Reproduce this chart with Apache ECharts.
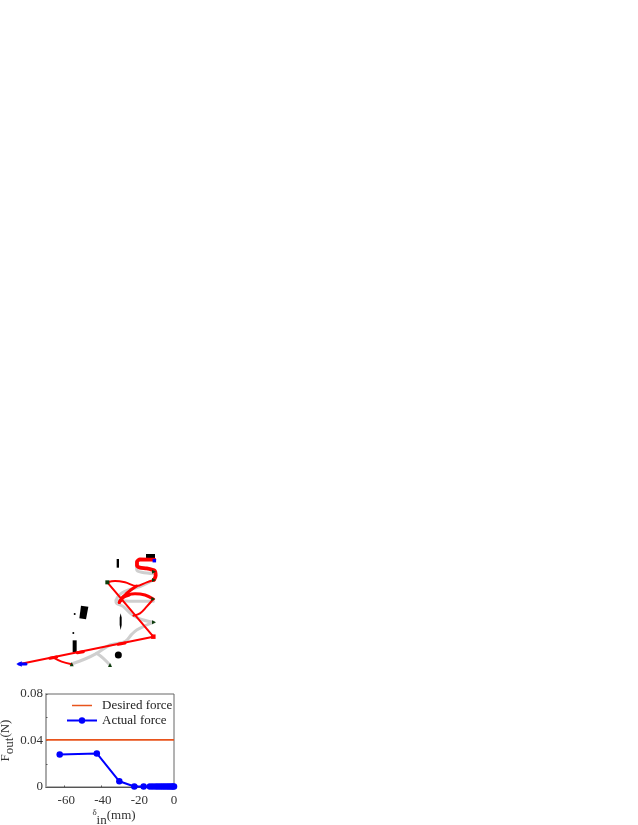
<!DOCTYPE html>
<html>
<head>
<meta charset="utf-8">
<style>html,body{margin:0;padding:0;background:#fff}#c{width:638px;height:825px}</style>
<script src="https://cdn.jsdelivr.net/npm/echarts@6/dist/echarts.min.js"></script>
</head>
<body>
<div id="c"></div>
<script>
// Force plot data
const desiredForceX = [-70, 0];
const desiredForceY = [0.0405, 0.0405];
const actualForceX = [-62.5, -42.2, -29.9, -21.7, -16.6, -13.2, -11.6, -10, -8.7, -7.4, -6.2, -5, -3.8, -2.7, -1.6, -0.7, 0];
const actualForceY = [0.028, 0.0289, 0.0049, 0.0004, 0.0004, 0.0004, 0.0004, 0.0004, 0.0004, 0.0004, 0.0004, 0.0004, 0.0004, 0.0004, 0.0004, 0.0004, 0.0004];
const xTickLabels = [-60, -40, -20, 0];
const yTickLabels = [0, 0.04, 0.08];
const yTicks = [0, 0.02, 0.04, 0.06, 0.08];
const xTicks = [-60, -40, -20, 0];

// Mechanism drawing, in drawing units
const grayPaths = [
  [[215,357],[255,342],[290,325],[330,300],[375,290],[395,268],[410,255],[440,240],[460,232]],
  [[290,325],[310,340],[330,360]],
  [[460,232],[420,222],[395,208],[370,185],[348,172],[358,150],[385,135],[420,125],[460,105]],
  [[348,166],[400,169],[460,169]],
  [[464,86],[425,82],[410,74],[410,52]]
];
const redThin = [
  [[60,357],[460,275],[322,112]],
  [[160,338],[185,350],[215,358]],
  [[322,112],[345,108],[375,112],[410,123],[440,112],[462,105]],
  [[460,162],[440,185],[420,205],[400,212]]
];
const redMedium = [
  [[410,123],[380,145],[358,172]],
  [[358,172],[372,153],[405,146],[435,150],[460,162]],
  [[358,172],[368,158],[388,150]],
  [[150,340],[170,336]],
  [[232,323],[250,320]],
  [[355,298],[375,294]]
];
const redThick = [
  [[462,105],[467,92],[464,77],[440,70],[420,68],[411,62],[411,50],[420,43],[463,44]]
];
const blueTip = [[57,357],[78,357]];
const obstacles = [
  [[438,27],[465,27],[465,40],[438,40]],
  [[350,42],[357,42],[357,68],[350,68]],
  [[243,182],[265,185],[258,223],[238,220]],
  [[218,286],[230,286],[230,322],[218,322]],
  [[362,205],[365,218],[365,240],[362,255],[359,240],[359,218]]
];
const roundObstacles = [[355,330]];
const tinyObstacles = [[224,207],[220,264]];
const triangleSupports = [[215,358],[330,360]];
const rightSupports = [[462,105],[462,80],[460,162],[462,232]];
const squareNodes = [[322,112]];
const redNodes = [[460,275]];
const blueNodes = [[463,47]];

const FONT = '"Liberation Serif", serif';
const simple = (data, color, width, z) => ({
  type: 'line', xAxisIndex: 0, yAxisIndex: 0, data, smooth: false, showSymbol: false, symbol: 'none',
  lineStyle: { color, width, cap: 'round', join: 'round' }, z, silent: true, clip: false
});
const curve = (data, color, width, z, s) => Object.assign(simple(data, color, width, z), { smooth: s || 0.35 });
const dots = (data, symbol, size, color, z, rotate) => ({
  type: 'scatter', xAxisIndex: 0, yAxisIndex: 0, data, symbol, symbolSize: size, symbolRotate: rotate || 0,
  itemStyle: { color, opacity: 1 }, z, silent: true, clip: false
});

const series = [];
grayPaths.forEach(p => series.push(curve(p, '#cfcfcf', 3, 2)));
redThin.forEach((p, i) => series.push(i === 0 ? simple(p, '#ff0000', 2, 4) : curve(p, '#ff0000', 2, 4)));
redMedium.forEach(p => series.push(curve(p, '#ff0000', 3, 4)));
redThick.forEach(p => series.push(curve(p, '#ff0000', 3.8, 4, 0.2)));
series.push(simple(blueTip, '#0000ff', 3, 5));
series.push({
  type: 'custom', xAxisIndex: 0, yAxisIndex: 0, silent: true, z: 3, clip: false,
  coordinateSystem: 'cartesian2d',
  data: obstacles.map((_, i) => [i]),
  encode: { x: 0, y: 0 },
  renderItem: (params, api) => ({
    type: 'polygon',
    shape: { points: obstacles[api.value(0)].map(pt => api.coord(pt)) },
    style: { fill: '#000' }
  })
});
series.push(dots(roundObstacles, 'circle', 7, '#000', 3));
series.push(dots(tinyObstacles, 'circle', 2, '#000', 3));
series.push(dots(triangleSupports, 'triangle', 4, '#0c3d0c', 6));
series.push(dots(rightSupports, 'triangle', 4, '#0c3d0c', 6, -90));
series.push(dots(squareNodes, 'rect', 4, '#0c3d0c', 6));
series.push(dots(redNodes, 'rect', 4.5, '#ff0000', 6));
series.push(dots(blueNodes, 'rect', 3.5, '#0000ff', 6));
series.push(dots([blueTip[0]], 'triangle', 5.5, '#0000ff', 6, 90));

// Force plot
const zip = (xs, ys) => xs.map((x, i) => [x, ys[i]]);
series.push({
  name: 'Desired force', type: 'line', xAxisIndex: 1, yAxisIndex: 1, symbol: 'none',
  data: zip(desiredForceX, desiredForceY), lineStyle: { color: '#e8541c', width: 1.7 },
  itemStyle: { color: '#e8541c' }, z: 4, silent: true
});
series.push({
  name: 'Actual force', type: 'line', xAxisIndex: 1, yAxisIndex: 1, symbol: 'circle', symbolSize: 6.5,
  showAllSymbol: true, data: zip(actualForceX, actualForceY), lineStyle: { color: '#0000ff', width: 2 },
  itemStyle: { color: '#0000ff' }, z: 5, silent: true, clip: false
});

const chart = echarts.init(document.getElementById('c'), null, { renderer: 'canvas' });
chart.setOption({
  animation: false,
  backgroundColor: '#fff',
  textStyle: { fontFamily: FONT },
  grid: [
    { left: 0, top: 545, width: 190, height: 130, show: false, outerBoundsMode: 'none' },
    { left: 46, top: 694, width: 128, height: 93, show: true, borderColor: '#666', borderWidth: 1, backgroundColor: 'transparent', outerBoundsMode: 'none' }
  ],
  legend: {
    show: true, orient: 'vertical', left: 66, top: 698, padding: 0, itemWidth: 30, itemHeight: 8, itemGap: 0,
    textStyle: { fontFamily: FONT, fontSize: 13, color: '#222', lineHeight: 15 },
    data: [
      { name: 'Desired force', icon: 'path://M0 0h.01v.01zM0 4.7H30V7.3H0zM30 12h.01v.01z', itemStyle: { color: '#e8541c', opacity: 1, borderWidth: 0 } },
      { name: 'Actual force' }
    ],
    selectedMode: false
  },
  xAxis: [
    { gridIndex: 0, type: 'value', min: 0, max: 570, show: false },
    {
      gridIndex: 1, type: 'value', min: -70, max: 0,
      axisLine: { show: true, onZero: false, lineStyle: { color: '#555', width: 1 } },
      axisTick: { show: true, inside: true, length: 1.5, customValues: xTicks, lineStyle: { color: '#555' } },
      splitLine: { show: false },
      axisLabel: {
        customValues: xTickLabels, margin: 7, color: '#333', fontFamily: FONT, fontSize: 13,
        formatter: v => v < 0 ? `{n|${v}}` : `${v}`,
        rich: { n: { padding: [0, 0, 0, 4], fontFamily: FONT, fontSize: 13, color: '#333' } }
      },
      name: '{d|δ}{s|in}{t|(mm)}', nameLocation: 'middle', nameGap: 16,
      nameTextStyle: {
        color: '#333',
        rich: {
          d: { fontFamily: FONT, fontSize: 9, color: '#333', padding: [0, 0, 6, 8] },
          s: { fontFamily: FONT, fontSize: 13, color: '#333', padding: [10, 0, 0, 0] },
          t: { fontFamily: FONT, fontSize: 13, color: '#333' }
        }
      }
    }
  ],
  yAxis: [
    { gridIndex: 0, type: 'value', min: 0, max: 390, inverse: true, show: false },
    {
      gridIndex: 1, type: 'value', min: 0, max: 0.08,
      axisLine: { show: true, onZero: false, lineStyle: { color: '#aaa', width: 2 } },
      axisTick: { show: true, inside: true, length: 1.5, customValues: yTicks, lineStyle: { color: '#555' } },
      splitLine: { show: false },
      axisLabel: { customValues: yTickLabels, margin: 3, color: '#333', fontFamily: FONT, fontSize: 13 },
      name: '{f|F}{s|out}{t|(N)}', nameLocation: 'middle', nameGap: 25, nameRotate: 90,
      nameTextStyle: {
        color: '#333',
        rich: {
          f: { fontFamily: FONT, fontSize: 13, color: '#333' },
          s: { fontFamily: FONT, fontSize: 13, color: '#333', padding: [8, 0, 0, 0] },
          t: { fontFamily: FONT, fontSize: 13, color: '#333' }
        }
      }
    }
  ],
  series
});
</script>
</body>
</html>
